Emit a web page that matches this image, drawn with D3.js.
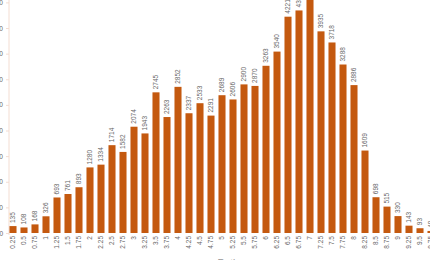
<!DOCTYPE html>
<html>
<head>
<meta charset="utf-8">
<title>Bar Chart</title>
<style>
  body { margin: 0; background: #fff; }
  svg { display: block; }
  text { font-family: "Liberation Sans", Arial, sans-serif; }
  .bar { fill: #c4590f; }
  .val { font-size: 6.5px; fill: #666; }
  .axis text { font-size: 6.5px; fill: #666; }
  .axis path, .axis line { stroke: #f3ddd2; }
</style>
<script src="https://d3js.org/d3.v7.min.js"></script>
</head>
<body>
<div id="chart"></div>
<script>
// data
var categories = ["0.25","0.5","0.75","1","1.25","1.5","1.75","2","2.25","2.5","2.75","3","3.25","3.5","3.75","4","4.25","4.5","4.75","5","5.25","5.5","5.75","6","6.25","6.5","6.75","7","7.25","7.5","7.75","8","8.25","8.5","8.75","9","9.25","9.5","9.75"];
var counts = [135,108,168,326,693,761,893,1280,1334,1714,1582,2074,1943,2745,2263,2852,2337,2533,2291,2689,2606,2900,2870,3263,3540,4221,4343,4700,3935,3718,3288,2886,1609,698,515,330,143,93,40];
var yTicks = [0,500,1000,1500,2000,2500,3000,3500,4000,4500];

var W = 430, H = 260;
var x0 = 7.5, step = 11, yBase = 233, yTop = 2.4;

var svg = d3.select("#chart").append("svg")
  .attr("width", W)
  .attr("height", H);

var x = d3.scaleBand()
  .domain(categories)
  .range([x0, x0 + step * categories.length])
  .paddingInner(0.36)
  .paddingOuter(0.18);

var y = d3.scaleLinear()
  .domain([0, 4500])
  .range([yBase, yTop]);

// y axis
var yAxis = svg.append("g")
  .attr("class", "axis")
  .attr("transform", "translate(9,0)")
  .call(d3.axisLeft(y).tickValues(yTicks).tickSize(3).tickSizeOuter(0));
yAxis.select(".domain").attr("d", "M0," + (yBase + 2) + "V-5");

// x axis labels (rotated)
var xAxis = svg.append("g")
  .attr("class", "axis")
  .attr("transform", "translate(0," + yBase + ")")
  .call(d3.axisBottom(x).tickSize(0));
xAxis.select(".domain").remove();
xAxis.selectAll("text")
  .style("text-anchor", "end")
  .attr("x", -3)
  .attr("y", 0)
  .attr("dy", "0.35em")
  .attr("transform", "rotate(-90)");

// bars
svg.selectAll(".bar")
  .data(counts)
  .enter().append("rect")
  .attr("class", "bar")
  .attr("x", function(d, i) { return x(categories[i]); })
  .attr("y", function(d) { return y(d); })
  .attr("width", x.bandwidth())
  .attr("height", function(d) { return yBase - y(d); });

// value labels
svg.selectAll(".val")
  .data(counts)
  .enter().append("text")
  .attr("class", "val")
  .attr("transform", function(d, i) {
    return "translate(" + (x(categories[i]) + x.bandwidth() / 2) + "," + (y(d) - 3) + ") rotate(-90)";
  })
  .attr("dy", "0.35em")
  .style("text-anchor", "start")
  .text(function(d) { return d; });

// x axis title (mostly below the view)
svg.append("text")
  .attr("x", 232)
  .attr("y", 267)
  .attr("text-anchor", "middle")
  .style("font-size", "10px")
  .style("fill", "#999")
  .text("Rating");
</script>
</body>
</html>
